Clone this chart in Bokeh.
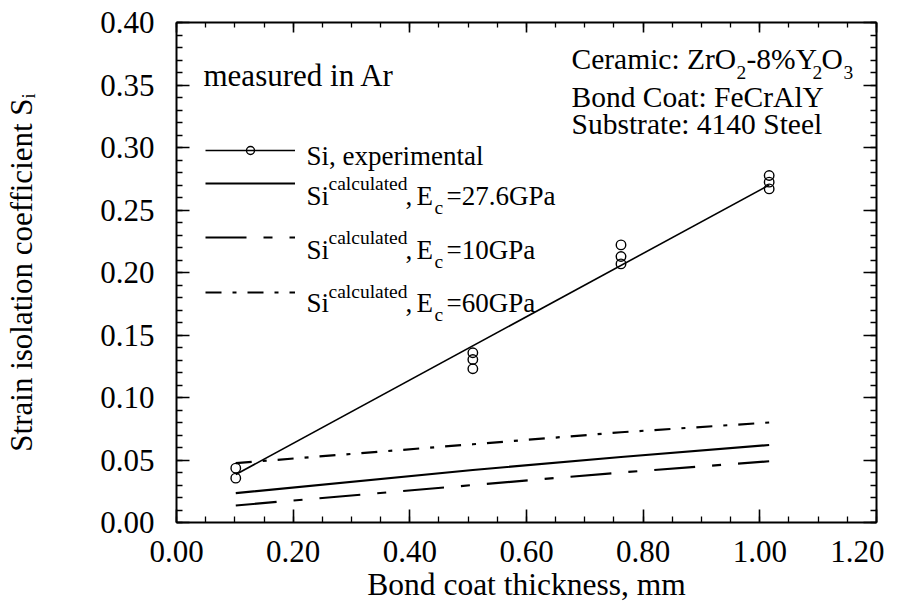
from bokeh.plotting import figure
from bokeh.models import (Range1d, LinearAxis, SingleIntervalTicker, Label, Legend,
                          LegendItem, CustomJSTickFormatter, NumeralTickFormatter)
from bokeh.embed import file_html
from bokeh.resources import INLINE

# ---------------- data ----------------
thickness = [0.1016, 0.508, 0.762, 1.016]
exp_x = [0.1016, 0.1016, 0.508, 0.508, 0.508, 0.762, 0.762, 0.762, 1.016, 1.016, 1.016]
exp_y = [0.0435, 0.0355, 0.1358, 0.1304, 0.1230, 0.2221, 0.2128, 0.2069, 0.2776, 0.2723, 0.2669]
fit_x = [0.1016, 1.016]
fit_y = [0.0384, 0.270]
calc_27_6 = [0.0235, 0.042, 0.0524, 0.062]
calc_10 = [0.0136, 0.030, 0.040, 0.049]
calc_60 = [0.0475, 0.0626, 0.0722, 0.080]

x_title = "Bond coat thickness, mm"
y_title = "Strain isolation coefficient S\u1d62"

FONT = "Liberation Serif"

# ---------------- figure ----------------
FL, FT, FW, FH = 176, 22, 700, 500
W, H = 884, 604
p = figure(width=W, height=H, output_backend="svg", toolbar_location=None,
           x_range=Range1d(0, 1.2000001), y_range=Range1d(0, 0.4000001),
           x_axis_location=None, y_axis_location=None,
           min_border_left=FL, min_border_top=FT,
           min_border_right=W - FL - FW, min_border_bottom=H - FT - FH)
p.grid.visible = False
p.outline_line_color = None
p.background_fill_color = "white"
p.border_fill_color = "white"

def style_axis(ax, interval, minor, tick_in, minor_in, labels=True, standoff=10):
    ax.ticker = SingleIntervalTicker(interval=interval, num_minor_ticks=minor)
    ax.axis_line_width = 2
    ax.axis_line_color = "black"
    ax.major_tick_in = tick_in
    ax.major_tick_out = 0
    ax.minor_tick_in = minor_in
    ax.minor_tick_out = 0
    ax.major_tick_line_width = 1.6
    ax.minor_tick_line_width = 1.3
    ax.major_tick_line_color = "black"
    ax.minor_tick_line_color = "black"
    if labels:
        ax.formatter = NumeralTickFormatter(format="0.00")
        ax.major_label_text_font = FONT
        ax.major_label_text_font_size = "31px"
        ax.major_label_text_color = "black"
        ax.major_label_standoff = standoff
        ax.axis_label_text_font = FONT
        ax.axis_label_text_font_style = "normal"
        ax.axis_label_text_color = "black"
    else:
        ax.formatter = CustomJSTickFormatter(code="return ''")
        ax.major_label_text_font_size = "1px"
        ax.major_label_standoff = 0

xb = LinearAxis(); style_axis(xb, 0.2, 4, 13, 6, True, 18)
xb.axis_label = x_title
xb.axis_label_text_font_size = "31.5px"
xb.axis_label_standoff = 2
yl = LinearAxis(); style_axis(yl, 0.05, 5, 13, 6, True, 22)
yl.axis_label = y_title
yl.axis_label_text_font_size = "31px"
yl.axis_label_standoff = 58
xt = LinearAxis(); style_axis(xt, 0.2, 4, 10, 5, False)
yr = LinearAxis(); style_axis(yr, 0.05, 5, 13, 6, False)
p.add_layout(xb, "below")
p.add_layout(yl, "left")
p.add_layout(xt, "above")
p.add_layout(yr, "right")

# ---------------- series ----------------
r60 = p.line(thickness, calc_60, line_color="black", line_width=2.2, line_dash="16 11 4 11")
r10 = p.line(thickness, calc_10, line_color="black", line_width=2.2, line_dash="41 17 9 17")
r27 = p.line(thickness, calc_27_6, line_color="black", line_width=2.2)
rfit = p.line(fit_x, fit_y, line_color="black", line_width=1.6)
rexp = p.scatter(exp_x, exp_y, marker="circle", size=9.5, line_color="black",
                 line_width=1.4, fill_color=None)

# ---------------- legend samples (one legend per row) ----------------
def X(px):
    return px - FL

def Y(py):
    return (FT + FH) - py

def row_legend(renderers, line_y):
    leg = Legend(items=[LegendItem(label=" ", renderers=renderers)],
                 location=(X(205), Y(line_y + 10)), padding=0, margin=0, spacing=0,
                 glyph_width=90, glyph_height=20, label_height=20, label_width=0,
                 label_standoff=0, label_text_font_size="1px",
                 border_line_color=None, background_fill_alpha=0)
    p.add_layout(leg)

row_legend([rfit, rexp], 150)
row_legend([r27], 183.3)
row_legend([r10], 236.7)
row_legend([r60], 291.7)

# ---------------- texts ----------------
def txt(s, px, py, size, align="left", baseline="alphabetic"):
    p.add_layout(Label(x=X(px), y=Y(py), x_units="screen", y_units="screen", text=s,
                       text_font=FONT, text_font_size=f"{size}px", text_color="black",
                       text_align=align, text_baseline=baseline))

LS, SS = 27, 19.5
txt("Si, experimental", 306, 155, LS)
for base, val in ((195, "=27.6GPa"), (249, "=10GPa"), (302.5, "=60GPa")):
    txt("Si", 306, base, LS)
    txt("calculated", 328, base - 11.7, SS)
    txt(",", 405, base, LS)
    txt("E", 416, base, LS)
    txt("c", 434, base + 11.7, SS)
    txt(val, 446, base, LS)

txt("measured in Ar", 203, 75, 31)

AS, AB = 29.5, 19.5
txt("Ceramic: ZrO", 571, 58.5, AS)
txt("2", 736, 71.5, AB)
txt("-8%Y", 746, 58.5, AS)
txt("2", 812, 71.5, AB)
txt("O", 821, 58.5, AS)
txt("3", 843, 71.5, AB)
txt("Bond Coat: FeCrAlY", 571, 96.7, AS)
txt("Substrate: 4140 Steel", 571, 123.3, AS)

open("out.html", "w").write(file_html(p, INLINE))
